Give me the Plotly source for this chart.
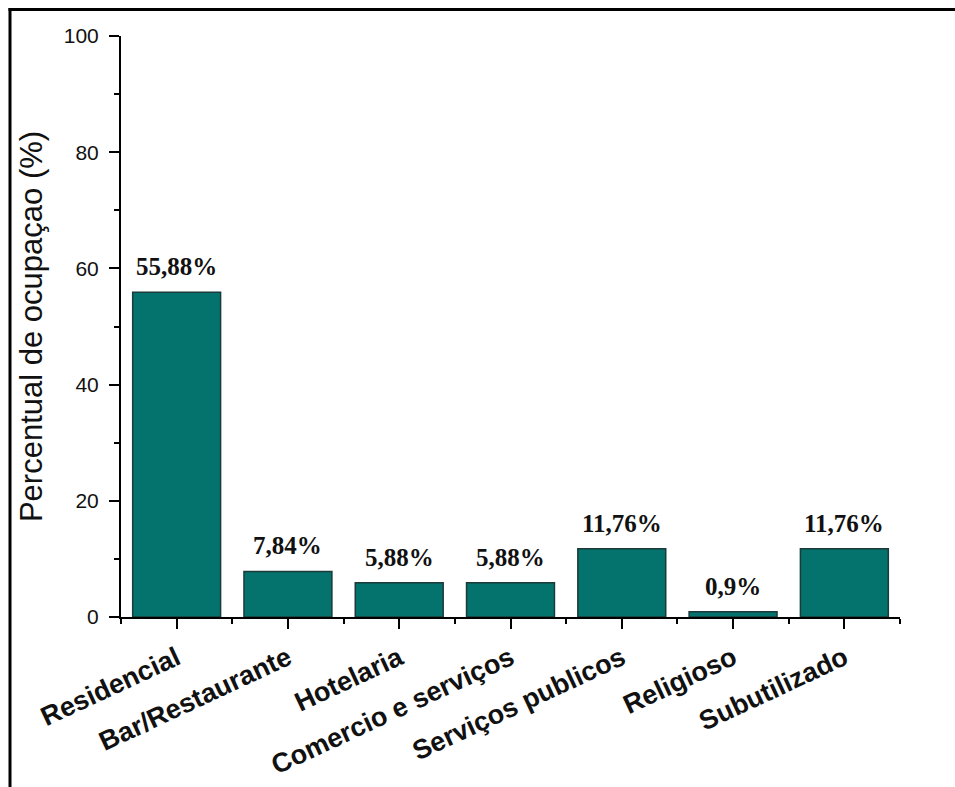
import plotly.graph_objects as go

categories = ["Residencial", "Bar/Restaurante", "Hotelaria", "Comercio e serviços",
              "Serviços publicos", "Religioso", "Subutilizado"]
values = [55.88, 7.84, 5.88, 5.88, 11.76, 0.9, 11.76]
value_labels = ["55,88%", "7,84%", "5,88%", "5,88%", "11,76%", "0,9%", "11,76%"]
y_title = "Percentual de ocupaçao (%)"

xpos = list(range(len(categories)))

fig = go.Figure()
fig.add_trace(go.Bar(
    x=xpos, y=values, width=0.79,
    marker=dict(color="#04726d", line=dict(color="#1b3a39", width=1.5)),
    hoverinfo="skip",
))

for xi, v, lab in zip(xpos, values, value_labels):
    fig.add_annotation(x=xi, y=v, text="<b>" + lab + "</b>", showarrow=False, yanchor="bottom",
                       yshift=10, font=dict(family="Liberation Serif", size=25, color="#111"),
                       xref="x", yref="y")

W, H = 955, 787
ml, mr, mt, mb = 121, 55, 36, 170
pw, ph = W - ml - mr, H - mt - mb

def px2x(p):
    return (p - ml) / pw

def py2y(p):
    return (H - mb - p) / ph

# partial frame (top and left border lines)
fig.add_shape(type="line", xref="paper", yref="paper",
              x0=px2x(8.5), x1=px2x(956), y0=py2y(9.5), y1=py2y(9.5),
              line=dict(color="black", width=3))
fig.add_shape(type="line", xref="paper", yref="paper",
              x0=px2x(10), x1=px2x(10), y0=py2y(8), y1=py2y(790),
              line=dict(color="black", width=3))

fig.update_layout(
    width=W, height=H,
    margin=dict(l=ml, r=mr, t=mt, b=mb, autoexpand=False),
    plot_bgcolor="white", paper_bgcolor="white",
    showlegend=False,
    font=dict(family="Liberation Sans, Arial", color="#111"),
)
fig.update_xaxes(
    range=[-0.5, len(categories) - 0.5],
    tickmode="array", tickvals=xpos, ticktext=["<b>" + c + "</b>" for c in categories],
    tickangle=-25, tickfont=dict(size=27, family="Liberation Sans, Arial", color="#111"),
    ticklabelstandoff=3, automargin=False,
    ticks="outside", ticklen=10, tickwidth=2, tickcolor="black",
    minor=dict(ticks="outside", ticklen=5, tickwidth=2, tickcolor="black",
               tickmode="linear", tick0=-0.5, dtick=1),
    showline=True, linecolor="black", linewidth=2,
    showgrid=False, zeroline=False,
)
fig.update_yaxes(
    range=[0, 100], tickmode="linear", tick0=0, dtick=20,
    tickfont=dict(size=21, family="Liberation Sans, Arial", color="#111"),
    ticks="outside", ticklen=10, tickwidth=2, tickcolor="black",
    ticklabelstandoff=6, automargin=False,
    minor=dict(ticks="outside", ticklen=5, tickwidth=2, tickcolor="black", dtick=10),
    showline=True, linecolor="black", linewidth=2,
    showgrid=False, zeroline=False,
    title=dict(text=y_title, font=dict(size=31, family="Liberation Sans, Arial", color="#111"),
               standoff=12),
)

fig.write_html("out.html")
